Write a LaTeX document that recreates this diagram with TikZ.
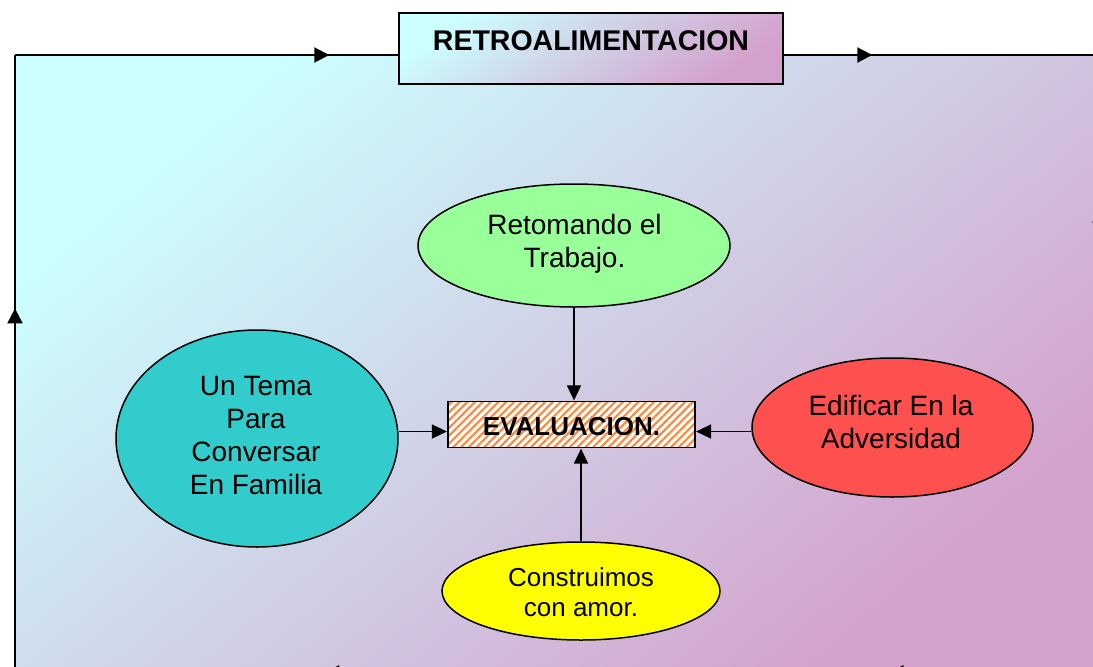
\documentclass[tikz,border=0pt]{standalone}
\usepackage{fontspec}
\setmainfont{Liberation Sans}
\usetikzlibrary{shapes.geometric,arrows.meta,patterns.meta,decorations.markings}
\definecolor{bgcyan}{HTML}{CCFFFF}
\definecolor{bgpink}{HTML}{D4A0CC}
\definecolor{retgreen}{HTML}{99FF99}
\definecolor{temateal}{HTML}{33CCCC}
\definecolor{edifred}{HTML}{FF5050}
\definecolor{consyellow}{HTML}{FFFF00}
\definecolor{hatchorange}{HTML}{FF8A3D}
\begin{document}
\begin{tikzpicture}[x=1pt,y=-1pt,
  ring/.style={line width=2pt, black},
  arrowat/.style={postaction={decorate},decoration={markings,mark=at position #1 with {\arrow{Triangle[length=15pt,width=15pt]}}}},
  oval/.style={ellipse, draw=black, line width=1.5pt, inner sep=0pt},
  ovaltext/.style={align=center, inner sep=0pt, font=\fontsize{28}{33}\selectfont},
  conn/.style={line width=1.7pt, -{Triangle[length=15pt,width=14pt]}},
  bigbox/.style={rectangle, draw=black, line width=1.5pt, inner sep=0pt}
]
\useasboundingbox (0,0) rectangle (1093,667);
\clip (0,0) rectangle (1093,667);
% background
\coordinate (tl) at (15,55);
\coordinate (tr) at (1100,55);
\coordinate (br) at (1100,673);
\coordinate (bl) at (15,673);
\shade[top color=bgcyan, bottom color=bgpink, shading angle=40] (tl) rectangle (br);
% top box
\node[bigbox, top color=bgcyan, bottom color=bgpink, shading angle=35,
      minimum width=384pt, minimum height=71pt] (retro) at (591,48.5) {};
\node[inner sep=0pt, font=\fontsize{28.5}{32}\selectfont\bfseries] (retrotxt) at (591,41) {RETROALIMENTACION};
% feedback loop
\draw[ring, arrowat=0.82] (tl) -- (retro.west |- tl);
\draw[ring, arrowat=0.28] (retro.east |- tr) -- (tr);
\draw[ring, arrowat=0.294] (tr) -- (br);
\draw[ring, arrowat=0.195, arrowat=0.715] (br) -- (bl);
\draw[ring, arrowat=0.59] (bl) -- (tl);
% central box
\node[bigbox, preaction={fill=white}, pattern={Lines[angle=45,distance=5.5pt,line width=2.2pt]}, pattern color=hatchorange,
      minimum width=247pt, minimum height=46pt] (eval) at (571.5,424.5) {};
\node[inner sep=0pt, font=\fontsize{26}{30}\selectfont\bfseries] (evaltxt) at (571.5,426.5) {EVALUACION.};
% ellipses
\node[oval, fill=retgreen, minimum width=312pt, minimum height=123pt] (ret) at (574,245.5) {};
\node[ovaltext] (rettxt) at (574.5,244) {Retomando el\\Trabajo.};
\node[oval, fill=temateal, minimum width=282pt, minimum height=217pt] (tema) at (257,438.5) {};
\node[ovaltext] (tematxt) at (256,435.5) {Un Tema\\Para\\Conversar\\En Familia};
\node[oval, fill=edifred, minimum width=281pt, minimum height=139pt] (edif) at (892.5,427.5) {};
\node[ovaltext] (ediftxt) at (891,421.5) {Edificar En la\\Adversidad};
\node[oval, fill=consyellow, minimum width=278pt, minimum height=98pt] (cons) at (581,591) {};
\node[ovaltext, font=\fontsize{26}{30}\selectfont] (constxt) at (581,592) {Construimos\\con amor.};
% connectors
\path ([yshift=-7pt]eval.west) coordinate (ew) ([yshift=-7pt]eval.east) coordinate (ee);
\draw[conn] (ret.south) -- (ret.south |- eval.north);
\draw[conn] (tema.east |- ew) -- (ew);
\draw[conn] (edif.west |- ee) -- (ee);
\draw[conn] (cons.north) -- (cons.north |- eval.south);
\end{tikzpicture}
\end{document}
